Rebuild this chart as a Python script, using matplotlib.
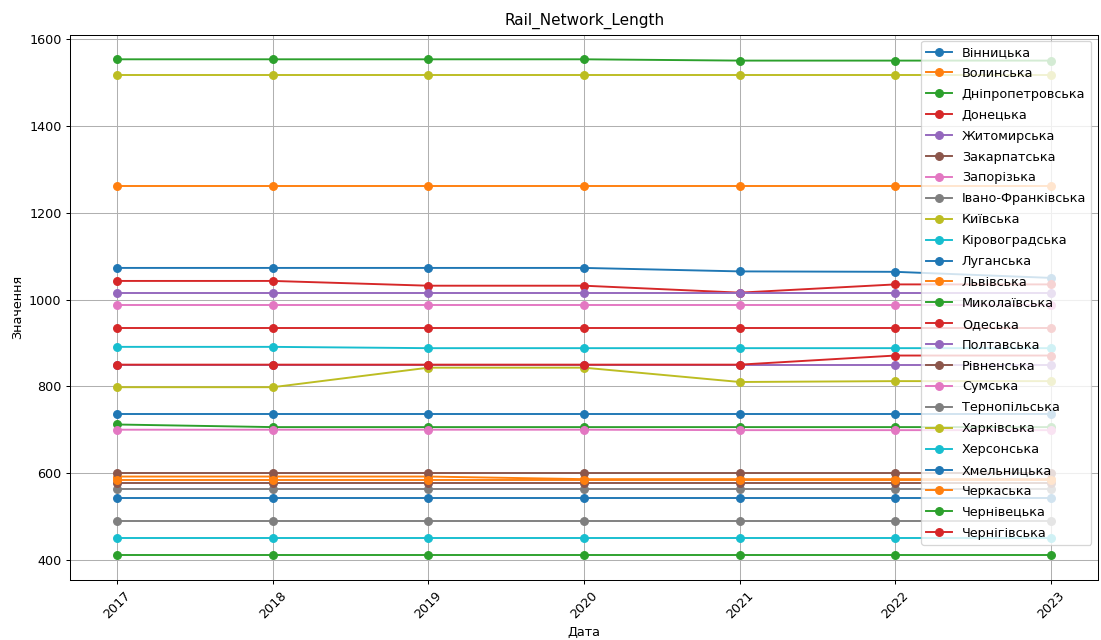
# Rail network length by region

import matplotlib.pyplot as plt

years = [2017, 2018, 2019, 2020, 2021, 2022, 2023]

regions = ['Вінницька', 'Волинська', 'Дніпропетровська', 'Донецька',
           'Житомирська', 'Закарпатська', 'Запорізька', 'Івано-Франківська',
           'Київська', 'Кіровоградська', 'Луганська', 'Львівська',
           'Миколаївська', 'Одеська', 'Полтавська', 'Рівненська',
           'Сумська', 'Тернопільська', 'Харківська', 'Херсонська',
           'Хмельницька', 'Черкаська', 'Чернівецька', 'Чернігівська']

# one row per region, values for 2017..2023
values = [
    [1073, 1073, 1073, 1073, 1065, 1064, 1050],
    [592, 592, 592, 586, 586, 586, 586],
    [1554, 1554, 1554, 1554, 1551, 1551, 1551],
    [1043, 1043, 1032, 1032, 1016, 1035, 1035],
    [1016, 1016, 1016, 1016, 1016, 1016, 1016],
    [600, 600, 600, 600, 600, 600, 600],
    [987, 987, 987, 987, 987, 987, 987],
    [563, 563, 563, 563, 563, 563, 563],
    [798, 798, 843, 843, 810, 812, 812],
    [891, 891, 888, 888, 888, 888, 888],
    [737, 737, 737, 737, 737, 737, 737],
    [1263, 1263, 1263, 1263, 1263, 1263, 1263],
    [712, 706, 706, 706, 706, 706, 706],
    [935, 935, 935, 935, 935, 935, 935],
    [850, 850, 850, 850, 850, 850, 850],
    [576, 576, 576, 576, 576, 576, 576],
    [700, 700, 700, 700, 699, 699, 699],
    [490, 490, 490, 490, 490, 490, 490],
    [1518, 1518, 1518, 1518, 1518, 1518, 1518],
    [450, 450, 450, 450, 450, 450, 450],
    [543, 543, 543, 543, 543, 543, 543],
    [584, 584, 584, 584, 584, 584, 584],
    [411, 411, 411, 411, 411, 411, 411],
    [850, 850, 850, 850, 850, 871, 871],
]

plt.figure(figsize=(12, 6.976))
for name, v in zip(regions, values):
    plt.plot(years, v, marker='o', label=name)

plt.title('Rail_Network_Length', pad=8)
plt.xlabel('Дата')
plt.ylabel('Значення')
plt.xticks(years, rotation=45)
plt.legend(loc='upper right', labelspacing=0.62)
plt.grid(True)
plt.subplots_adjust(left=0.064, right=0.997, bottom=0.094, top=0.946)

plt.savefig('out.png', dpi=91.75)
